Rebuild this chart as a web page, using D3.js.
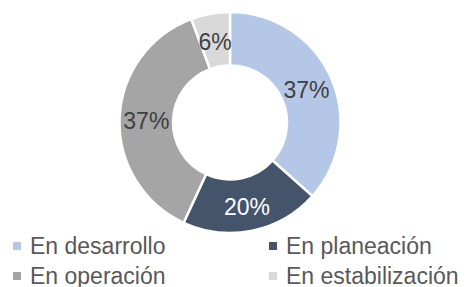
<!DOCTYPE html>
<html><head><meta charset="utf-8">
<script src="https://cdn.jsdelivr.net/npm/d3@7"></script>
<style>body{margin:0;background:#fff;}svg{display:block;}</style>
</head><body>
<svg id="c" width="466" height="287"></svg>
<script>
const categories = ["En desarrollo", "En planeación", "En operación", "En estabilización"];
const values = [36.6, 20.3, 37.4, 5.7];
const colors = ["#B4C7E7", "#44546A", "#A5A5A5", "#D9D9D9"];
const labelColors = ["#404040", "#FFFFFF", "#404040", "#404040"];

const svg = d3.select("#c");
const cx = 230, cy = 122.5, rOuter = 110.5, rInner = 57;
const total = d3.sum(values);
const pie = d3.pie().sort(null).value(d => d)(values);
const arc = d3.arc().innerRadius(rInner).outerRadius(rOuter);
const g = svg.append("g").attr("transform", `translate(${cx},${cy})`);
g.selectAll("path").data(pie).join("path")
  .attr("d", arc).attr("fill", (d, i) => colors[i])
  .attr("stroke", "#fff").attr("stroke-width", 2.5).attr("stroke-linejoin", "miter");
g.selectAll("text").data(pie).join("text")
  .attr("transform", d => { const c = arc.centroid(d); return `translate(${c[0]},${c[1] + 2})`; })
  .attr("text-anchor", "middle").attr("dominant-baseline", "central")
  .attr("font-family", "Liberation Sans, Arial, sans-serif").attr("font-size", 23)
  .attr("fill", (d, i) => labelColors[i])
  .text(d => d3.format(".0f")(d.data / total * 100) + "%");

const legX = [13, 269], legY = [254, 284];
const leg = svg.append("g");
categories.forEach((c, i) => {
  const x = legX[i % 2], y = legY[Math.floor(i / 2)];
  leg.append("rect").attr("x", x).attr("y", y - 12).attr("width", 8).attr("height", 8).attr("fill", colors[i]);
  leg.append("text").attr("x", x + 17).attr("y", y)
    .attr("font-family", "Liberation Sans, Arial, sans-serif").attr("font-size", 23)
    .attr("fill", "#595959").text(c);
});
</script>
</body></html>
